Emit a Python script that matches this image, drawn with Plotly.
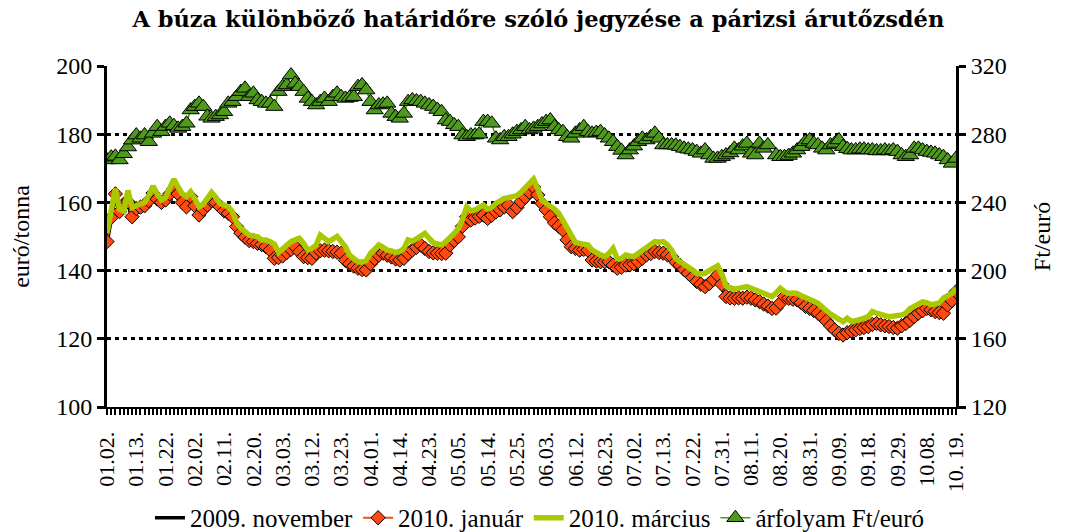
import pandas as pd
import plotly.graph_objects as go

# ---- categories: Paris trading days of 2009 (Good Friday, Easter Monday, 1 May closed)
holidays = ["2009-04-10", "2009-04-13", "2009-05-01"]
dates = [d for d in pd.bdate_range("2009-01-02", "2009-10-19")
         if d.strftime("%Y-%m-%d") not in holidays]
categories = [d.strftime("%m.%d.") for d in dates]

tick_labels = ["01.02.", "01.13.", "01.22.", "02.02.", "02.11.", "02.20.", "03.03.",
               "03.12.", "03.23.", "04.01.", "04.14.", "04.23.", "05.05.", "05.14.",
               "05.25.", "06.03.", "06.12.", "06.23.", "07.02.", "07.13.", "07.22.",
               "07.31.", "08.11.", "08.20.", "08.31.", "09.09.", "09.18.", "09.29.",
               "10.08.", "10. 19."]

# ---- series (euro/tonne)
nov_2009 = [
    148.0, 155.0, 161.8, 156.6, 158.9, 159.5, 155.1, 157.5, 157.9, 158.4,
    159.8, 162.0, 160.3, 159.3, 160.0, 161.8, 163.4, 161.8, 159.3, 158.0,
    161.0, 158.3, 155.6, 157.3, 158.5, 159.8, 159.3, 158.0, 156.8, 156.1,
    155.1, 152.2, 150.3, 149.1, 148.1, 147.8, 147.3, 146.9, 146.3, 145.3,
    142.9, 143.1, 143.6, 144.6, 145.5, 146.3, 144.8, 143.4, 143.1, 142.9,
    144.4, 145.1, 145.3, 145.1, 144.9, 144.7, 144.4, 142.3, 141.3, 140.6,
    140.0, 139.6, 139.5, 141.3, 142.8, 143.8, 144.4, 143.8, 143.3, 142.7,
    142.4, 142.9, 144.3, 145.3, 146.1, 146.8, 145.8, 144.9, 144.5, 144.4,
    144.3, 144.4, 146.8, 148.1, 149.2, 152.3, 155.1, 154.1, 154.7, 155.2,
    155.6, 154.6, 155.5, 156.5, 157.1, 158.0, 158.5, 156.6, 157.8, 159.5,
    160.8, 162.3, 163.8, 161.5, 159.0, 157.1, 155.1, 153.3, 152.3, 151.2,
    148.3, 146.3, 145.8, 145.3, 145.5, 145.3, 142.4, 142.1, 141.9, 141.9,
    141.9, 140.9, 140.0, 140.3, 140.9, 141.0, 141.3, 141.9, 142.9, 143.9,
    144.3, 144.9, 144.6, 144.4, 143.9, 143.4, 141.8, 140.9, 139.6, 138.5,
    137.3, 136.1, 135.3, 134.6, 135.5, 136.6, 138.0, 135.3, 131.7, 131.3,
    131.2, 131.3, 131.2, 131.5, 131.2, 130.7, 130.2, 129.5, 128.9, 128.2,
    128.3, 129.8, 131.7, 131.2, 130.9, 130.7, 129.9, 128.8, 128.2, 127.6,
    126.8, 125.8, 124.5, 123.1, 121.9, 120.9, 120.4, 121.1, 121.6, 121.9,
    122.3, 122.6, 122.9, 123.5, 123.8, 123.4, 123.1, 122.9, 122.6, 122.4,
    123.1, 123.8, 124.7, 125.8, 126.8, 127.5, 128.2, 127.8, 127.3, 127.0,
    126.8, 129.2, 130.5, 133.1]

jan_2010 = [
    148.5, 155.5, 162.5, 157.3, 159.5, 160.2, 155.8, 158.2, 158.6, 159.0,
    160.5, 162.7, 161.0, 160.0, 160.7, 162.5, 164.1, 162.5, 160.0, 158.7,
    161.7, 159.0, 156.3, 158.0, 159.2, 160.5, 160.0, 158.7, 157.5, 156.8,
    155.8, 152.9, 151.0, 149.8, 148.8, 148.5, 148.0, 147.6, 147.0, 146.0,
    143.6, 143.8, 144.3, 145.3, 146.2, 147.0, 145.5, 144.1, 143.8, 143.6,
    145.1, 145.8, 146.0, 145.8, 145.6, 145.4, 145.1, 143.0, 142.0, 141.3,
    140.7, 140.3, 140.2, 142.0, 143.5, 144.5, 145.1, 144.5, 144.0, 143.4,
    143.1, 143.6, 145.0, 146.0, 146.8, 147.5, 146.5, 145.6, 145.2, 145.1,
    145.0, 145.1, 147.5, 148.8, 149.9, 153.0, 155.8, 154.8, 155.4, 155.9,
    156.3, 155.3, 156.2, 157.2, 157.8, 158.7, 159.2, 157.3, 158.5, 160.2,
    161.5, 163.0, 164.5, 162.2, 159.7, 157.8, 155.8, 154.0, 153.0, 151.9,
    149.0, 147.0, 146.5, 146.0, 146.2, 146.0, 143.1, 142.8, 142.6, 142.6,
    142.6, 141.6, 140.7, 141.0, 141.6, 141.7, 142.0, 142.6, 143.6, 144.6,
    145.0, 145.6, 145.3, 145.1, 144.6, 144.1, 142.5, 141.6, 140.3, 139.2,
    138.0, 136.8, 136.0, 135.3, 136.2, 137.3, 138.7, 136.0, 132.4, 132.0,
    131.9, 132.0, 131.9, 132.2, 131.9, 131.4, 130.9, 130.2, 129.6, 128.9,
    129.0, 130.5, 132.4, 131.9, 131.6, 131.4, 130.6, 129.5, 128.9, 128.3,
    127.5, 126.5, 125.2, 123.8, 122.6, 121.6, 121.1, 121.8, 122.3, 122.6,
    123.0, 123.3, 123.6, 124.2, 124.5, 124.1, 123.8, 123.6, 123.3, 123.1,
    123.8, 124.5, 125.4, 126.5, 127.5, 128.2, 128.9, 128.5, 128.0, 127.7,
    127.5, 129.9, 131.2, 133.8]

mar_2010 = [
    151.0, 157.0, 164.0, 158.0, 157.5, 163.5, 158.5, 159.0, 159.5, 160.0,
    162.0, 164.8, 162.5, 160.7, 161.5, 164.0, 166.8, 164.5, 162.5, 161.7,
    163.1, 161.0, 158.7, 159.5, 161.0, 162.9, 161.5, 159.7, 159.2, 158.7,
    157.3, 154.0, 152.5, 151.5, 150.4, 150.2, 149.9, 149.0, 149.0, 148.5,
    147.8, 145.3, 146.5, 147.5, 148.5, 149.0, 149.5, 148.0, 146.0, 146.5,
    147.5, 150.4, 149.5, 148.5, 149.2, 150.0, 148.5, 147.0, 144.5, 143.5,
    142.6, 142.5, 143.0, 145.0, 146.2, 147.5, 146.8, 146.0, 145.8, 145.3,
    145.6, 146.5, 149.0, 148.6, 149.3, 150.2, 150.9, 149.5, 148.2, 147.8,
    147.5, 148.5, 149.5, 150.9, 152.3, 155.0, 158.7, 157.5, 157.8, 158.6,
    159.2, 158.0, 158.5, 159.7, 160.5, 161.2, 161.4, 161.7, 162.0, 163.0,
    164.1, 165.5, 166.8, 164.0, 160.7, 159.7, 159.0, 158.0, 156.8, 154.5,
    152.9, 150.0, 148.3, 148.0, 147.8, 147.5, 146.0, 145.1, 144.6, 144.1,
    145.0, 146.5, 143.5, 143.5, 144.6, 144.3, 144.1, 145.0, 146.0, 147.0,
    147.8, 148.5, 148.3, 148.5, 147.5, 146.0, 143.5, 142.8, 141.8, 141.0,
    140.2, 139.2, 139.0, 139.2, 140.0, 140.8, 141.4, 139.0, 135.5, 135.0,
    134.5, 134.8, 135.0, 135.3, 134.8, 134.3, 133.8, 133.3, 132.8, 132.4,
    133.5, 134.8, 133.8, 133.3, 133.4, 133.3, 132.6, 132.2, 131.5, 131.0,
    130.4, 129.2, 128.0, 127.2, 126.5, 125.6, 125.0, 126.0, 125.0, 125.3,
    125.5, 126.0, 126.5, 128.0, 127.5, 127.0, 126.8, 126.5, 126.6, 126.5,
    127.0, 127.5, 128.8, 129.5, 130.4, 130.8, 130.6, 130.0, 130.2, 130.5,
    131.9, 132.6, 133.3, 134.8]

# ---- exchange rate (Ft/euro), right axis
huf_eur = [
    264.9, 266.5, 267.0, 264.9, 268.5, 272.5, 276.5, 279.5, 277.6, 279.5,
    275.6, 280.5, 284.4, 281.5, 284.5, 286.4, 285.0, 283.4, 284.4, 286.4,
    294.2, 296.2, 298.1, 296.2, 290.5, 289.3, 290.3, 291.3, 293.2, 298.1,
    299.1, 302.0, 305.0, 306.9, 302.0, 304.0, 300.1, 299.1, 298.1, 298.1,
    296.2, 305.0, 307.9, 308.9, 314.7, 309.8, 307.9, 305.0, 301.0, 299.1,
    297.1, 299.1, 301.0, 299.1, 302.0, 304.0, 302.0, 301.0, 301.5, 302.0,
    307.9, 308.9, 305.9, 299.1, 294.2, 297.1, 297.6, 298.1, 292.2, 290.3,
    289.3, 292.2, 299.1, 300.1, 299.5, 299.1, 298.1, 297.1, 296.2, 294.5,
    293.2, 288.3, 287.4, 285.5, 284.4, 279.5, 278.5, 279.5, 279.5, 280.0,
    287.4, 287.4, 286.4, 277.6, 276.6, 278.5, 278.5, 280.0, 281.5, 282.5,
    284.4, 282.5, 283.4, 284.4, 286.0, 287.4, 288.3, 284.4, 282.5, 281.5,
    278.5, 277.6, 280.5, 282.5, 284.4, 281.5, 280.5, 281.0, 281.5, 279.5,
    277.6, 275.6, 272.7, 270.5, 267.8, 270.7, 273.0, 275.6, 277.6, 276.6,
    278.5, 280.5, 277.6, 273.7, 273.7, 273.7, 273.5, 272.7, 271.7, 271.2,
    270.7, 269.8, 268.8, 270.7, 267.8, 265.8, 265.8, 266.8, 267.8, 269.0,
    271.7, 270.7, 273.0, 274.6, 268.8, 267.8, 274.6, 271.7, 273.7, None,
    267.8, 266.8, 266.8, 267.5, 268.8, 270.7, 272.7, 275.6, 276.6, 274.6,
    273.7, 271.7, 270.7, 273.7, 274.6, 276.6, 272.7, 271.5, 270.7, 270.7,
    271.2, 271.2, 270.7, 270.7, 270.2, 270.2, 270.7, 270.2, 270.7, 269.8,
    267.8, 266.8, 267.8, 271.7, 271.7, 270.7, 269.8, 269.3, 268.8, 267.8,
    266.8, 264.9, 262.9, 265.8]

x = list(range(len(categories)))
tickvals = [categories.index(t.replace(" ", "")) for t in tick_labels]

FONT = "Liberation Serif"
BLACK = "#000000"
ORANGE = "#FF4A12"
LIME = "#AAC800"
GREEN = "#4E9A1C"

fig = go.Figure()
fig.add_trace(go.Scatter(x=x, y=nov_2009, name="2009. november", mode="lines",
                         line=dict(color=BLACK, width=3.5)))
fig.add_trace(go.Scatter(x=x, y=jan_2010, name="2010. január", mode="lines+markers",
                         line=dict(color=ORANGE, width=2),
                         marker=dict(symbol="diamond", size=11, color=ORANGE,
                                     line=dict(color=BLACK, width=1))))
fig.add_trace(go.Scatter(x=x, y=mar_2010, name="2010. március", mode="lines",
                         line=dict(color=LIME, width=5.5)))
fig.add_trace(go.Scatter(x=x, y=huf_eur, name="árfolyam Ft/euró", mode="lines+markers",
                         yaxis="y2", connectgaps=False,
                         line=dict(color=GREEN, width=1.5),
                         marker=dict(symbol="triangle-up", size=15, color=GREEN,
                                     line=dict(color=BLACK, width=1))))

xfont = dict(family=FONT, size=22, color=BLACK)
yfont = dict(family=FONT, size=24, color=BLACK)
fig.update_layout(
    width=1066, height=532,
    margin=dict(l=107, r=110, t=66, b=125, autoexpand=False),
    paper_bgcolor="white", plot_bgcolor="white",
    font=dict(family=FONT, size=22, color=BLACK),
    title=dict(text="<b>A búza különböző határidőre szóló jegyzése a párizsi árutőzsdén</b>",
               x=0.505, xanchor="center", y=0.964, yanchor="middle", yref="container",
               automargin=False,
               font=dict(family="DejaVu Serif", size=22.5, color=BLACK)),
    xaxis=dict(range=[0, len(categories) - 1], tickmode="array", tickvals=tickvals,
               ticktext=tick_labels, tickangle=-90, ticks="outside", ticklen=6,
               tickwidth=2, tickcolor=BLACK, automargin=False, ticklabelstandoff=8,
               minor=dict(tickmode="linear", tick0=0, dtick=1, ticks="outside",
                          ticklen=6, tickwidth=2, tickcolor=BLACK, showgrid=False),
               showline=True, linecolor=BLACK, linewidth=2, showgrid=False,
               zeroline=False, tickfont=xfont),
    yaxis=dict(range=[100, 200], dtick=20, tick0=100, ticks="outside", ticklen=7,
               tickwidth=2.5, tickcolor=BLACK, showline=True, linecolor=BLACK,
               linewidth=3, showgrid=True, gridcolor=BLACK, gridwidth=2.5,
               griddash="4px,4px", zeroline=False, tickfont=yfont, automargin=False,
               title=dict(text="euró/tonna", font=yfont, standoff=20)),
    yaxis2=dict(range=[120, 320], dtick=40, tick0=120, overlaying="y", side="right",
                ticks="outside", ticklen=7, tickwidth=2.5, tickcolor=BLACK,
                showline=True, linecolor=BLACK, linewidth=3, showgrid=False,
                zeroline=False, tickfont=yfont, automargin=False,
                title=dict(text="Ft/euró", font=yfont, standoff=28)),
    legend=dict(orientation="h", x=0.0506, xanchor="left", y=-0.3255, yanchor="middle",
                font=dict(family=FONT, size=25, color=BLACK), itemwidth=30,
                bgcolor="rgba(0,0,0,0)"),
    showlegend=True,
)

fig.write_html("out.html", post_script="document.body.style.margin='0px';",
               config={"displayModeBar": False})
